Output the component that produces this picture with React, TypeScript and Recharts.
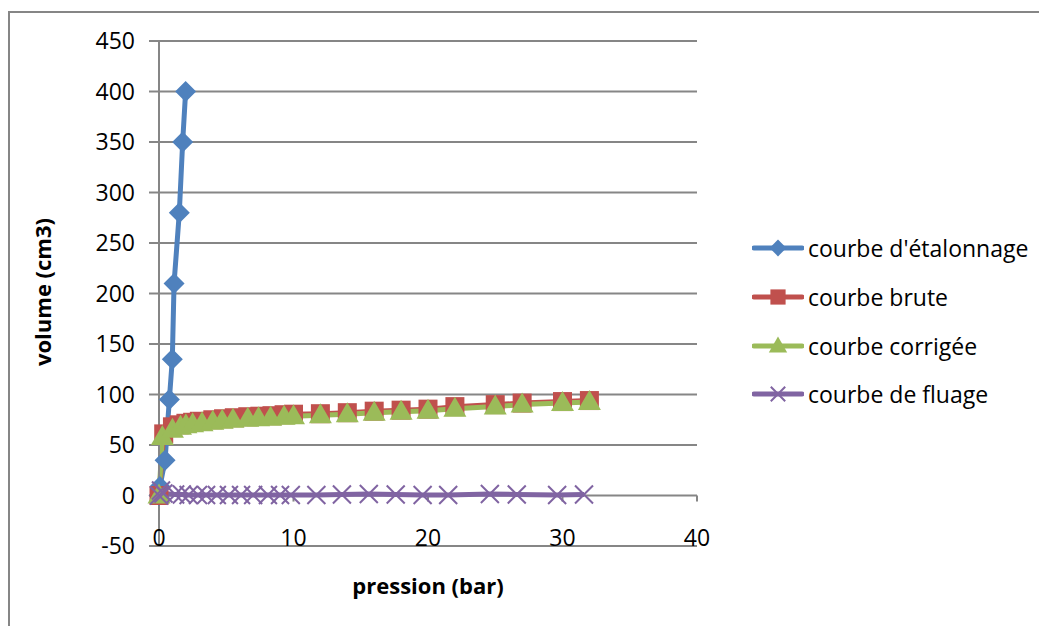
import React from 'react'
import { LineChart, Line, XAxis, YAxis, CartesianGrid, ReferenceLine } from 'recharts'

// pression (bar) / volume (cm3)
const etalonnageP = [0, 0.07, 0.45, 0.77, 0.99, 1.12, 1.51, 1.76, 1.98]
const etalonnageV = [0, 9, 35, 95, 135, 210, 280, 350, 400]

const bruteP = [0, 0.35, 1, 1.5, 2, 2.5, 3, 4, 4.8, 5.6, 6.6, 7.5, 8.4, 9.3, 10, 12, 14, 16, 18, 20, 22, 25, 27, 30, 32]
const bruteV = [0, 61, 68, 70, 71.5, 72.5, 73.5, 75, 76, 77, 78, 78.5, 79, 80, 80.5, 81, 82, 83.5, 84.5, 85.5, 88, 90, 91.5, 93, 94]

const corrigeeP = [0, 0.25, 1, 1.6, 2, 2.5, 3.2, 4, 4.7, 5.5, 6.6, 7.4, 8.3, 9.3, 10, 12, 14, 16, 18, 20, 22, 25, 27, 30, 32]
const corrigeeV = [0, 58, 65, 68, 69.5, 70.5, 71.5, 73, 74, 75, 76, 76.5, 77, 78, 78.5, 79.5, 80.5, 82, 83, 84, 86, 88, 90, 91.5, 92.5]

const fluageP = [0, 0.15, 0.33, 1.2, 1.7, 2.2, 2.9, 3.5, 4.3, 5.2, 6.1, 7, 8.1, 9, 9.8, 11.7, 13.6, 15.6, 17.6, 19.6, 21.5, 24.6, 26.6, 29.6, 31.6]
const fluageV = [0, 5, 2, 1, 1, 0.5, 0.5, 0.5, 0.5, 0.5, 0.5, 0.5, 0.5, 0.5, 0.5, 0.5, 1, 1.5, 1, 0.5, 0.5, 1.5, 1, 0.5, 1]

const xTicks = [0, 10, 20, 30, 40]
const yTicks = [-50, 0, 50, 100, 150, 200, 250, 300, 350, 400, 450]

const FONT = '"Open Sans", sans-serif'
const GRID = '#868686'

const pts = (p: number[], v: number[]) => p.map((x, i) => ({ p: x, v: v[i] }))

type Kind = 'diamond' | 'square' | 'triangle' | 'x'

const series: { name: string; color: string; kind: Kind; data: { p: number; v: number }[] }[] = [
  { name: "courbe d'étalonnage", color: '#4F81BD', kind: 'diamond', data: pts(etalonnageP, etalonnageV) },
  { name: 'courbe brute', color: '#C0504D', kind: 'square', data: pts(bruteP, bruteV) },
  { name: 'courbe corrigée', color: '#9BBB59', kind: 'triangle', data: pts(corrigeeP, corrigeeV) },
  { name: 'courbe de fluage', color: '#8064A2', kind: 'x', data: pts(fluageP, fluageV) },
]

function Marker({ kind, cx, cy, color, s = 1 }: { kind: Kind; cx: number; cy: number; color: string; s?: number }) {
  if (cx == null || cy == null) return null
  if (kind === 'diamond') {
    const r = 10.5 * s
    return <polygon points={`${cx},${cy - r} ${cx + r},${cy} ${cx},${cy + r} ${cx - r},${cy}`} fill={color} />
  }
  if (kind === 'square') {
    const h = 9.5 * s
    return <rect x={cx - h} y={cy - h} width={h * 2} height={h * 2} fill={color} />
  }
  if (kind === 'triangle') {
    return <polygon points={`${cx},${cy - 12 * s} ${cx + 11.5 * s},${cy + 8 * s} ${cx - 11.5 * s},${cy + 8 * s}`} fill={color} />
  }
  const h = 9 * s
  return <path d={`M${cx - h},${cy - h}L${cx + h},${cy + h}M${cx + h},${cy - h}L${cx - h},${cy + h}`} stroke={color} strokeWidth={2} fill="none" />
}

const XTick = ({ x, y, payload }: any) => (
  <text x={x} y={y} textAnchor="middle" fontSize={23} fill="#000" fontFamily={FONT}>{payload.value}</text>
)

export default function App() {
  return (
    <div style={{ position: 'relative', width: 1039, height: 618, overflow: 'hidden', fontFamily: FONT }}>
      <div style={{ position: 'absolute', left: 0, top: 3, width: 1200, height: 800, borderTop: `2px solid ${GRID}`, borderLeft: `2px solid ${GRID}` }} />
      <LineChart width={1039} height={618} margin={{ top: 33, right: 350, bottom: 60, left: 0 }} style={{ position: 'absolute', left: 0, top: 0 }}>
        <CartesianGrid vertical={false} stroke={GRID} strokeWidth={2} />
        <XAxis type="number" dataKey="p" domain={[0, 40]} ticks={xTicks} interval={0} axisLine={false} tickLine={false} tickSize={0} tickMargin={0} height={20} tick={<XTick />} />
        <YAxis type="number" domain={[-50, 450]} ticks={yTicks} interval={0} width={151}
          axisLine={{ stroke: GRID, strokeWidth: 2 }} tickLine={{ stroke: GRID, strokeWidth: 2 }} tickSize={10} tickMargin={14}
          tick={{ fontSize: 23, fill: '#000', fontFamily: FONT }} />
        {xTicks.map(t => (
          <ReferenceLine key={t} segment={[{ x: t, y: 0 }, { x: t, y: -6 }]} stroke={GRID} strokeWidth={2} />
        ))}
        {series.map(s => (
          <Line key={s.name} data={s.data} dataKey="v" name={s.name} type="linear" stroke={s.color} strokeWidth={5}
            dot={(d: any) => <Marker key={`${s.kind}-${d.index}`} kind={s.kind} cx={d.cx} cy={d.cy} color={s.color} />}
            activeDot={false} isAnimationActive={false} />
        ))}
      </LineChart>

      <div style={{ position: 'absolute', left: 34, top: 284, transform: 'translate(-50%, -50%) rotate(-90deg)', fontWeight: 700, fontSize: 22, whiteSpace: 'nowrap' }}>
        volume (cm3)
      </div>
      <div style={{ position: 'absolute', left: 420, top: 577, transform: 'translate(-50%, -50%)', fontWeight: 700, fontSize: 22, whiteSpace: 'nowrap' }}>
        pression (bar)
      </div>

      <div style={{ position: 'absolute', left: 744, top: 216 }}>
        {series.map(s => (
          <div key={s.name} style={{ display: 'flex', alignItems: 'center', height: 48.7 }}>
            <svg width={52} height={24} style={{ display: 'block' }}>
              <line x1={2} y1={12} x2={50} y2={12} stroke={s.color} strokeWidth={5} strokeLinecap="round" />
              <Marker kind={s.kind} cx={26} cy={12} color={s.color} s={0.8} />
            </svg>
            <span style={{ marginLeft: 4, fontSize: 23, whiteSpace: 'nowrap' }}>{s.name}</span>
          </div>
        ))}
      </div>
    </div>
  )
}
